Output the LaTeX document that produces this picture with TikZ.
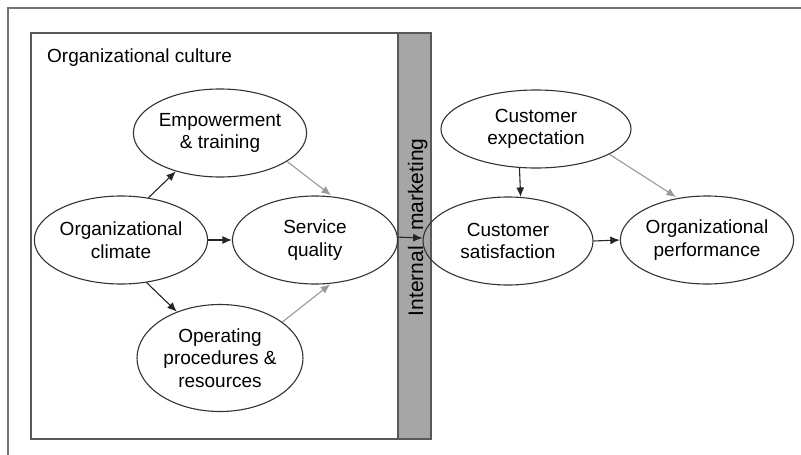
\documentclass[tikz,border=0pt]{standalone}
\usepackage{fontspec}
\setmainfont{Liberation Sans}
\usetikzlibrary{arrows.meta,shapes.geometric}
\begin{document}
\begin{tikzpicture}[x=1pt,y=-1pt,
  font=\fontsize{19}{22.5}\selectfont,
  ell/.style={draw=black!80, line width=1.1pt, ellipse, align=center, inner sep=0pt},
  blk/.style={draw=black!85, line width=1.1pt, -{Latex[length=9.5pt,width=8pt]}},
  gry/.style={draw=black!40, line width=1.1pt, -{Latex[length=9.5pt,width=8pt]}}]
\useasboundingbox (0,0) rectangle (801,455);
% outer frame (top and left edges)
\draw[black!55, line width=1.3pt] (8,455) -- (8,8) -- (801,8);
% organizational culture box and internal marketing bar
\draw[black!65, line width=1.8pt] (31,33) rectangle (398,439);
\draw[black!65, line width=1.8pt, fill=black!35] (398,33) rectangle (431,439);
\node[anchor=base west, inner sep=0pt] (oc) at (47,62) {Organizational culture};
% ellipses
\node[ell, minimum width=166pt, minimum height=88pt] (emp) at (220,133) {Empowerment\\\& training};
\node[ell, minimum width=166pt, minimum height=88pt] (clim) at (121,240) {Organizational\\climate};
\node[ell, minimum width=165pt, minimum height=88pt] (sq) at (315,240) {Service\\quality};
\node[ell, minimum width=166pt, minimum height=107pt] (op) at (220,358) {Operating\\procedures \&\\resources};
\node[ell, minimum width=190pt, minimum height=78pt] (ce) at (536,129) {Customer\\expectation};
\node[ell, minimum width=170pt, minimum height=88pt] (cs) at (508,241) {Customer\\satisfaction};
\node[ell, minimum width=166pt, minimum height=88pt] (perf) at (707,240) {Organizational\\performance};
% internal marketing label
\node[rotate=90, anchor=base east, inner sep=0pt, font=\fontsize{21}{24}\selectfont] (im1) at (423,246) {Internal};
\node[rotate=90, anchor=base west, inner sep=0pt, font=\fontsize{21}{24}\selectfont] (im2) at (423,231) {marketing};
% connectors
\draw[blk] (clim.57) -- (emp.221);
\draw[blk] (clim.east) -- (sq.west);
\draw[blk] (clim.301) -- (op.133);
\draw[gry, shorten >=2pt] (emp.337) -- (sq.68);
\draw[gry, shorten >=1pt] (op.30) -- (sq.290);
\draw[blk] (sq.2) -- (cs.178);
\draw[blk] (ce.247.4) -- (cs.74.6);
\draw[gry, shorten >=2pt] (ce.341) -- (perf.125);
\draw[blk] (cs.east) -- (perf.west);
\end{tikzpicture}
\end{document}
